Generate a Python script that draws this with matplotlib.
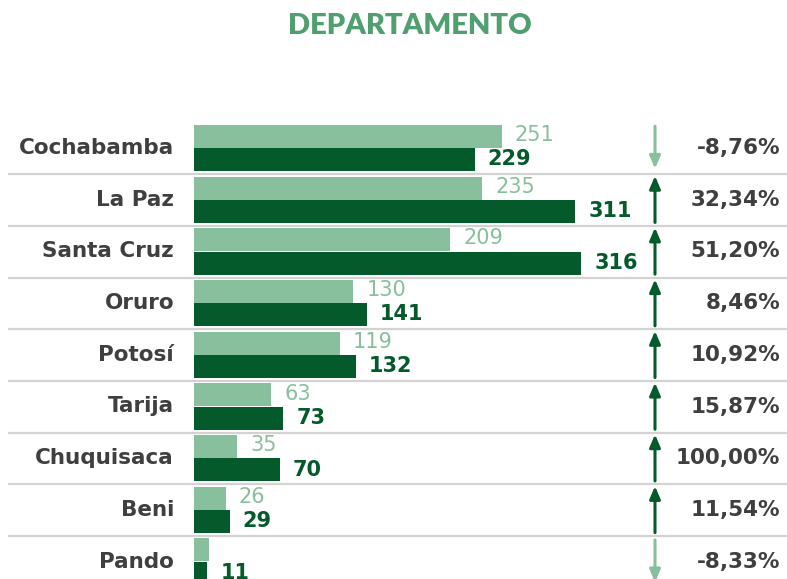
import matplotlib
matplotlib.use("Agg")
import matplotlib.pyplot as plt

categories = ["Cochabamba", "La Paz", "Santa Cruz", "Oruro", "Potosí", "Tarija", "Chuquisaca", "Beni", "Pando"]
prev_vals = [251, 235, 209, 130, 119, 63, 35, 26, 12]
curr_vals = [229, 311, 316, 141, 132, 73, 70, 29, 11]
pct_labels = ["-8,76%", "32,34%", "51,20%", "8,46%", "10,92%", "15,87%", "100,00%", "11,54%", "-8,33%"]
prev_label_shown = [True, True, True, True, True, True, True, True, False]

LIGHT = "#88bf9c"
DARK = "#055a2b"
GRAY = "#3f3f3f"
TITLE = "#4f9f6f"
FONT = ["DejaVu Sans"]

W, H = 787, 579
fig = plt.figure(figsize=(W / 100, H / 100), dpi=100)
fig.patch.set_facecolor("white")

pxu = 1.226            # pixels per data unit
x0 = 194               # pixel of zero
row = 51.7             # pixels per row
yc0 = 148              # pixel of first row centre
ax = fig.add_axes([x0 / W, 0, (W - x0) / W, 1])
ax.set_xlim(0, (W - x0) / pxu)
ax.set_ylim((H - yc0) / row, -yc0 / row)
ax.axis("off")

def px2x(p):
    return (p - x0) / pxu

bh = 0.445
for i, (cat, p, c, pl) in enumerate(zip(categories, prev_vals, curr_vals, pct_labels)):
    ax.barh(i - 0.225, p, height=bh, color=LIGHT, edgecolor="none")
    ax.barh(i + 0.225, c, height=bh, color=DARK, edgecolor="none")
    if prev_label_shown[i]:
        ax.text(p + 13 / pxu, i - 0.25, str(p), color=LIGHT, fontsize=15, family=FONT,
                fontweight="normal", ha="left", va="center", clip_on=False)
    ax.text(c + 13 / pxu, i + 0.22, str(c), color=DARK, fontsize=15, family=FONT,
            fontweight="bold", ha="left", va="center", clip_on=False)
    ax.text(px2x(174), i, cat, color=GRAY, fontsize=15.5, family=FONT,
            fontweight="bold", ha="right", va="center", clip_on=False)
    ax.text(px2x(780), i, pl, color=GRAY, fontsize=15.5, family=FONT,
            fontweight="bold", ha="right", va="center", clip_on=False)
    up = c >= p
    xa = px2x(655)
    if up:
        ax.annotate("", xy=(xa, i - 0.46), xytext=(xa, i + 0.44),
                    arrowprops=dict(arrowstyle="-|>,head_length=0.75,head_width=0.32",
                                    color=DARK, lw=2.2, shrinkA=0, shrinkB=0),
                    annotation_clip=False)
    else:
        ax.annotate("", xy=(xa, i + 0.40), xytext=(xa, i - 0.42),
                    arrowprops=dict(arrowstyle="-|>,head_length=0.75,head_width=0.32",
                                    color=LIGHT, lw=2.2, shrinkA=0, shrinkB=0),
                    annotation_clip=False)
    if i < len(categories) - 1:
        ax.plot([px2x(8), px2x(787)], [i + 0.505, i + 0.505], color="#d3d3d3",
                lw=1.6, clip_on=False, solid_capstyle="butt")

fig.text(410 / W, 1 - 26 / H, "DEPARTAMENTO", color=TITLE, fontsize=21,
         family=["Lato", "DejaVu Sans"], fontweight="heavy", ha="center", va="center")

fig.savefig("out.png", dpi=100, facecolor="white")
